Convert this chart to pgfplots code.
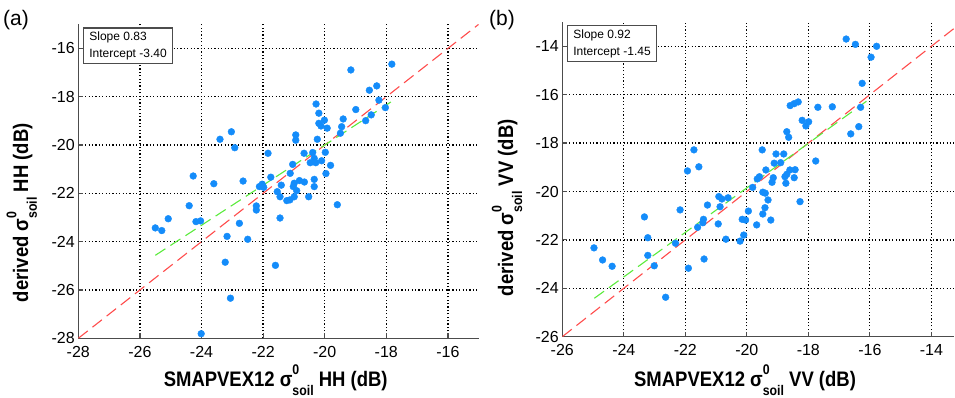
\documentclass[border=0pt]{standalone}
\usepackage{fontspec}
\setmainfont{Liberation Sans}
\newfontfamily\narrowfont[FakeStretch=0.88]{Liberation Sans}
\usepackage{pgfplots}
\pgfplotsset{compat=1.18}
\definecolor{ptblue}{RGB}{20,140,250}
\definecolor{fitred}{RGB}{255,75,75}
\definecolor{fitgreen}{RGB}{90,235,60}
\newcommand{\sig}{σ\rlap{\raisebox{0.55em}{\fontsize{14}{14}\selectfont 0}}\raisebox{-0.42em}{\fontsize{14}{14}\selectfont soil}}
\pgfplotsset{mystyle/.style={
  scale only axis,
  axis x line*=bottom, axis y line*=left,
  axis line style={black!70, line width=1.3pt},
  tick align=inside, major tick length=5pt,
  tick style={black!70, line width=1.2pt},
  xmajorgrids, ymajorgrids,
  grid style={black, line width=1.3pt, dash pattern=on 1.3pt off 2.1pt},
  tick label style={font=\fontsize{16}{16}\selectfont},
  xticklabel style={yshift=-4pt},
  /pgf/number format/assume math mode=true,
  label style={font=\narrowfont\bfseries\fontsize{21}{21}\selectfont},
}}
\begin{document}
\begin{tikzpicture}
\useasboundingbox (0,0) rectangle (955pt,398pt);
\begin{axis}[mystyle,
  at={(78.3pt,59.7pt)}, anchor=south west,
  width=400.4pt, height=314pt,
  xmin=-28, xmax=-15, ymin=-28, ymax=-15,
  xtick={-28,-26,...,-16}, ytick={-28,-26,...,-16},
  xlabel={SMAPVEX12 \sig{} HH (dB)},
  ylabel={derived \sig{} HH (dB)},
  xlabel style={at={(axis description cs:0.493,-0.133)}, anchor=center},
  ylabel style={at={(axis description cs:-0.141,0.40)}, anchor=center},
]
\addplot[only marks, mark=*, mark size=3.4pt, color=ptblue] coordinates {
(-17.82,-16.65) (-19.15,-16.89) (-18.31,-17.55) (-18.55,-17.73) (-18.24,-18.14)
(-18.99,-18.53) (-18.03,-18.45) (-18.49,-18.75) (-18.67,-18.99) (-19.40,-18.92)
(-19.45,-19.24) (-19.49,-19.51) (-20.28,-18.30) (-20.19,-18.68) (-20.01,-18.97)
(-20.19,-19.10) (-20.12,-19.21) (-19.92,-19.30) (-20.24,-19.76) (-20.94,-19.58)
(-20.94,-19.80) (-23.03,-19.45) (-23.40,-19.76) (-22.92,-20.11)
(-21.84,-20.34) (-20.67,-20.34) (-20.39,-20.31) (-19.98,-20.30) (-20.34,-20.55)
(-20.47,-20.73) (-20.29,-20.73) (-20.10,-20.65) (-19.81,-20.84) (-21.04,-20.80)
(-19.96,-21.18) (-21.12,-21.17) (-21.75,-21.33) (-24.27,-21.28) (-23.60,-21.60)
(-22.65,-21.49) (-22.12,-21.72) (-22.03,-21.62) (-21.98,-21.75) (-21.41,-21.66)
(-20.99,-21.58) (-20.82,-21.47) (-20.66,-21.53) (-20.34,-21.42) (-20.34,-21.72)
(-21.02,-21.72) (-20.91,-21.89) (-21.54,-21.93) (-21.45,-22.14) (-21.23,-22.30)
(-21.13,-22.27) (-20.99,-22.14) (-20.52,-22.14) (-19.59,-22.47) (-24.40,-22.51)
(-22.22,-22.52) (-22.22,-22.69) (-25.08,-23.05) (-24.18,-23.17) (-24.03,-23.14)
(-21.45,-23.02) (-22.77,-23.24) (-25.50,-23.43) (-25.29,-23.54) (-23.17,-23.78)
(-22.50,-23.90) (-23.23,-24.85) (-21.60,-24.98) (-23.06,-26.34) (-24.01,-27.81)
};
\addplot[color=fitred, line width=1.1pt, dash pattern=on 12pt off 6pt] coordinates {(-28,-28) (-15,-15)};
\addplot[color=fitgreen, line width=1.1pt, dash pattern=on 12pt off 6pt] coordinates {(-25.5,-24.565) (-17.85,-18.216)};
\node[draw=black!70, line width=1.3pt, fill=white, anchor=north west, align=left,
  font=\fontsize{12}{16.7}\selectfont, inner xsep=6pt, inner ysep=4pt]
  at (rel axis cs:0.011,0.9906) {Slope 0.83\\Intercept -3.40};
\end{axis}
\begin{axis}[mystyle,
  at={(562.3pt,61.3pt)}, anchor=south west,
  width=392.1pt, height=314.6pt,
  xmin=-26, xmax=-13.25, ymin=-26, ymax=-13,
  xtick={-26,-24,...,-14}, ytick={-26,-24,...,-14},
  xlabel={SMAPVEX12 \sig{} VV (dB)},
  ylabel={derived \sig{} VV (dB)},
  xlabel style={at={(axis description cs:0.466,-0.138)}, anchor=center},
  ylabel style={at={(axis description cs:-0.141,0.41)}, anchor=center},
]
\addplot[only marks, mark=*, mark size=3.4pt, color=ptblue] coordinates {
(-16.77,-13.70) (-16.47,-13.92) (-15.78,-14.00) (-15.96,-14.45) (-16.25,-15.53)
(-16.30,-16.52) (-16.36,-17.32) (-16.62,-17.62) (-18.59,-16.45) (-18.46,-16.37)
(-18.33,-16.30) (-17.69,-16.52) (-17.22,-16.50) (-18.20,-17.06) (-17.99,-17.12)
(-18.08,-17.29) (-18.70,-17.53) (-18.64,-17.76) (-17.76,-18.74) (-21.72,-18.28)
(-21.56,-18.98) (-21.93,-19.15) (-19.50,-18.28) (-19.05,-18.45) (-18.80,-18.45)
(-19.11,-18.83) (-18.90,-18.81) (-19.38,-19.11) (-18.60,-19.11) (-18.43,-19.10)
(-18.70,-19.29) (-18.76,-19.39) (-18.46,-19.43) (-19.14,-19.43) (-19.18,-19.62)
(-19.59,-19.39) (-19.66,-19.48) (-18.73,-19.66) (-19.81,-19.83) (-19.48,-20.03)
(-19.40,-20.07) (-19.31,-20.35) (-18.27,-20.42) (-20.91,-20.21) (-20.81,-20.31)
(-20.61,-20.26) (-21.28,-20.56) (-20.87,-20.63) (-19.41,-20.67) (-19.95,-20.81)
(-19.48,-20.93) (-22.17,-20.76) (-23.33,-21.05) (-20.15,-21.15) (-20.04,-21.18)
(-21.41,-21.15) (-19.22,-21.18) (-21.60,-21.48) (-21.43,-21.29) (-20.93,-21.34)
(-19.68,-21.38) (-23.22,-21.91) (-20.68,-21.97) (-20.22,-22.05) (-20.10,-21.80)
(-24.97,-22.33) (-24.69,-22.83) (-24.38,-23.09) (-23.22,-22.64) (-23.01,-23.07)
(-22.32,-22.14) (-21.39,-22.79) (-21.90,-23.17) (-22.64,-24.37)
};
\addplot[color=fitred, line width=1.1pt, dash pattern=on 12pt off 6pt] coordinates {(-26,-26) (-13,-13)};
\addplot[color=fitgreen, line width=1.1pt, dash pattern=on 12pt off 6pt] coordinates {(-24.96,-24.413) (-16.0,-16.17)};
\node[draw=black!70, line width=1.3pt, fill=white, anchor=north west, align=left,
  font=\fontsize{12}{16.7}\selectfont, inner xsep=6pt, inner ysep=4pt]
  at (rel axis cs:0.0112,0.9908) {Slope 0.92\\Intercept -1.45};
\end{axis}
\node[anchor=west, font=\fontsize{21}{21}\selectfont, inner sep=0pt] at (3pt,378pt) {(a)};
\node[anchor=west, font=\fontsize{21}{21}\selectfont, inner sep=0pt] at (489pt,378pt) {(b)};
\end{tikzpicture}
\end{document}
